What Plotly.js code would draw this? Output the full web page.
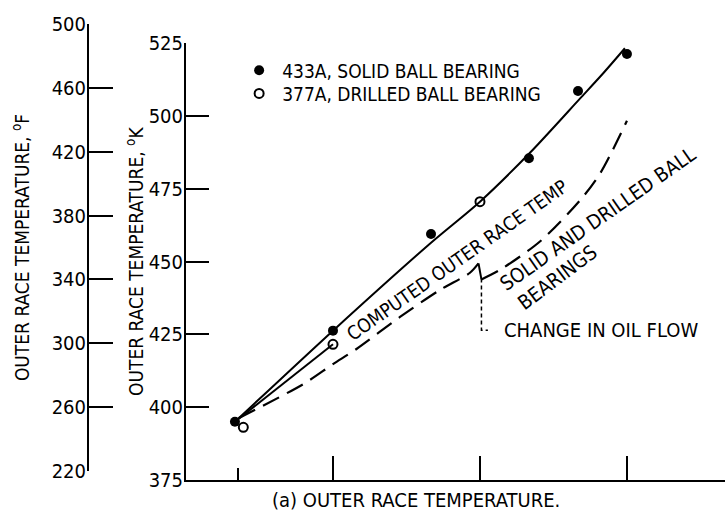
<!DOCTYPE html>
<html>
<head>
<meta charset="utf-8">
<script src="https://cdn.plot.ly/plotly-3.0.1.min.js"></script>
<style>html,body{margin:0;padding:0;background:#fff;}#chart{width:725px;height:529px;}</style>
</head>
<body>
<div id="chart"></div>
<script>
// ---- data (x in test-condition units, temperatures in K) ----
var solidX = [0.333, 1.0, 1.667, 2.333, 2.667, 3.0];
var solidK = [395.0, 426.3, 459.5, 485.5, 508.6, 521.3];

var drilledX = [0.39, 1.0, 2.0];
var drilledK = [393.1, 421.6, 470.6];

// faired curve through experimental data
var fairX = [0.333, 1.0, 1.667, 2.0, 2.34, 2.68, 2.84, 2.986];
var fairK = [395.0, 426.3, 456.5, 470.6, 487.4, 506.0, 514.8, 523.3];

// faired line for drilled bearing
var drilledFairX = [0.333, 1.0];
var drilledFairK = [395.0, 421.6];

// computed outer race temperature, before and after the change in oil flow
var compLowX = [0.36, 0.80, 1.0, 1.16, 1.456, 1.728, 1.93, 1.99];
var compLowK = [396.3, 408.0, 414.8, 420.0, 431.0, 440.3, 446.1, 449.4];
var compHighX = [2.01, 2.14, 2.41, 2.68, 2.82, 3.0];
var compHighK = [443.9, 447.3, 457.0, 471.0, 480.5, 498.4];

// change-in-oil-flow leader
var leaderX = [2.01, 2.01, 2.054];
var leaderK = [444.2, 426.4, 426.4];

var kTicks = [375, 400, 425, 450, 475, 500, 525];
var fTicks = [220, 260, 300, 340, 380, 420, 460, 500];
var xTicks = [1, 2, 3];
var xMinorTicks = [0.354];

var FONT = "'Liberation Sans Narrow', 'DejaVu Sans Condensed', 'Arial Narrow', sans-serif";

var traces = [
  {x: fairX, y: fairK, mode: 'lines', line: {color: '#000', width: 2, shape: 'spline', smoothing: 0.8}, showlegend: false, hoverinfo: 'skip'},
  {x: drilledFairX, y: drilledFairK, mode: 'lines', line: {color: '#000', width: 2}, showlegend: false, hoverinfo: 'skip'},
  {x: compLowX, y: compLowK, mode: 'lines', line: {color: '#000', width: 2.2, dash: '18px,9px', shape: 'spline', smoothing: 0.8}, showlegend: false, hoverinfo: 'skip'},
  {x: [compLowX[compLowX.length - 1], compHighX[0]], y: [compLowK[compLowK.length - 1], compHighK[0]], mode: 'lines', line: {color: '#000', width: 2}, showlegend: false, hoverinfo: 'skip'},
  {x: compHighX, y: compHighK, mode: 'lines', line: {color: '#000', width: 2.2, dash: '18px,9px', shape: 'spline', smoothing: 0.8}, showlegend: false, hoverinfo: 'skip'},
  {x: leaderX, y: leaderK, mode: 'lines', line: {color: '#000', width: 1.5, dash: '4px,3px'}, showlegend: false, hoverinfo: 'skip'},
  {x: solidX, y: solidK, mode: 'markers', name: '433A, SOLID BALL BEARING', legend: 'legend',
   marker: {symbol: 'circle', size: 10, color: '#000'}},
  {x: drilledX, y: drilledK, mode: 'markers', name: '377A, DRILLED BALL BEARING', legend: 'legend2',
   marker: {symbol: 'circle-open', size: 9, color: '#000', line: {width: 2, color: '#000'}}},
  {x: [null], y: [null], xaxis: 'x2', yaxis: 'y2', mode: 'markers', showlegend: false, hoverinfo: 'skip'}
];

var legendCommon = {xanchor: 'left', yanchor: 'top', itemwidth: 36, bgcolor: 'rgba(0,0,0,0)',
                    font: {family: FONT, size: 19, color: '#000'}};

var layout = {
  width: 725, height: 529,
  margin: {l: 0, r: 0, t: 24, b: 49},
  paper_bgcolor: '#fff', plot_bgcolor: 'rgba(0,0,0,0)',
  font: {family: FONT, size: 19, color: '#000'},
  showlegend: true,
  legend: Object.assign({x: 0.3257, y: 0.940}, legendCommon),
  legend2: Object.assign({x: 0.3257, y: 0.889}, legendCommon),
  xaxis: {domain: [186/725, 1], range: [0, 3.667], showgrid: false, zeroline: false,
          showline: true, linecolor: '#000', linewidth: 2, anchor: 'y',
          tickmode: 'array', tickvals: xTicks, showticklabels: false,
          ticks: 'inside', ticklen: 24, tickwidth: 2, tickcolor: '#000',
          minor: {tickmode: 'array', tickvals: xMinorTicks, ticks: 'inside', ticklen: 12, tickwidth: 2, tickcolor: '#000'}},
  yaxis: {domain: [0, (480 - 43.3) / 456], range: [375, 525], anchor: 'x', side: 'left',
          showgrid: false, zeroline: false, showline: true, linecolor: '#000', linewidth: 2,
          tickmode: 'array', tickvals: kTicks, ticks: 'inside', ticklen: 23, tickwidth: 2, tickcolor: '#000',
          ticklabelstandoff: -3, tickfont: {family: FONT, size: 20},
          title: {text: 'OUTER RACE TEMPERATURE, <sup>o</sup>K', font: {family: FONT, size: 19}, standoff: 0},
          automargin: false},
  xaxis2: {domain: [89/725, 0.2], visible: false, range: [0, 1], anchor: 'y2'},
  yaxis2: {domain: [9/456, 1], range: [220, 500], anchor: 'x2', side: 'left',
           showgrid: false, zeroline: false, showline: true, linecolor: '#000', linewidth: 2,
           tickmode: 'array', tickvals: fTicks, ticks: 'inside', ticklen: 24, tickwidth: 2, tickcolor: '#000',
           ticklabelstandoff: -3, tickfont: {family: FONT, size: 20},
           title: {text: 'OUTER RACE TEMPERATURE, <sup>o</sup>F', font: {family: FONT, size: 19}, standoff: 17},
           automargin: false},
  annotations: [
    {text: 'COMPUTED OUTER RACE TEMP', x: 1.844, y: 450.5, xref: 'x', yref: 'y', showarrow: false,
     textangle: -35, xanchor: 'center', yanchor: 'middle', font: {family: FONT, size: 19}},
    {text: 'SOLID AND DRILLED BALL', x: 2.80, y: 464.7, xref: 'x', yref: 'y', showarrow: false,
     textangle: -35, xanchor: 'center', yanchor: 'middle', font: {family: FONT, size: 20}},
    {text: 'BEARINGS', x: 2.53, y: 444.7, xref: 'x', yref: 'y', showarrow: false,
     textangle: -37, xanchor: 'center', yanchor: 'middle', font: {family: FONT, size: 20}},
    {text: 'CHANGE IN OIL FLOW', x: 2.148, y: 426.4, xref: 'x', yref: 'y', showarrow: false,
     xanchor: 'left', yanchor: 'middle', font: {family: FONT, size: 20}},
    {text: '(a) OUTER RACE TEMPERATURE.', x: 416/725, y: -20/456, xref: 'paper', yref: 'paper', showarrow: false,
     xanchor: 'center', yanchor: 'middle', font: {family: FONT, size: 20}}
  ]
};

Plotly.newPlot('chart', traces, layout, {staticPlot: true, displayModeBar: false});
</script>
</body>
</html>
